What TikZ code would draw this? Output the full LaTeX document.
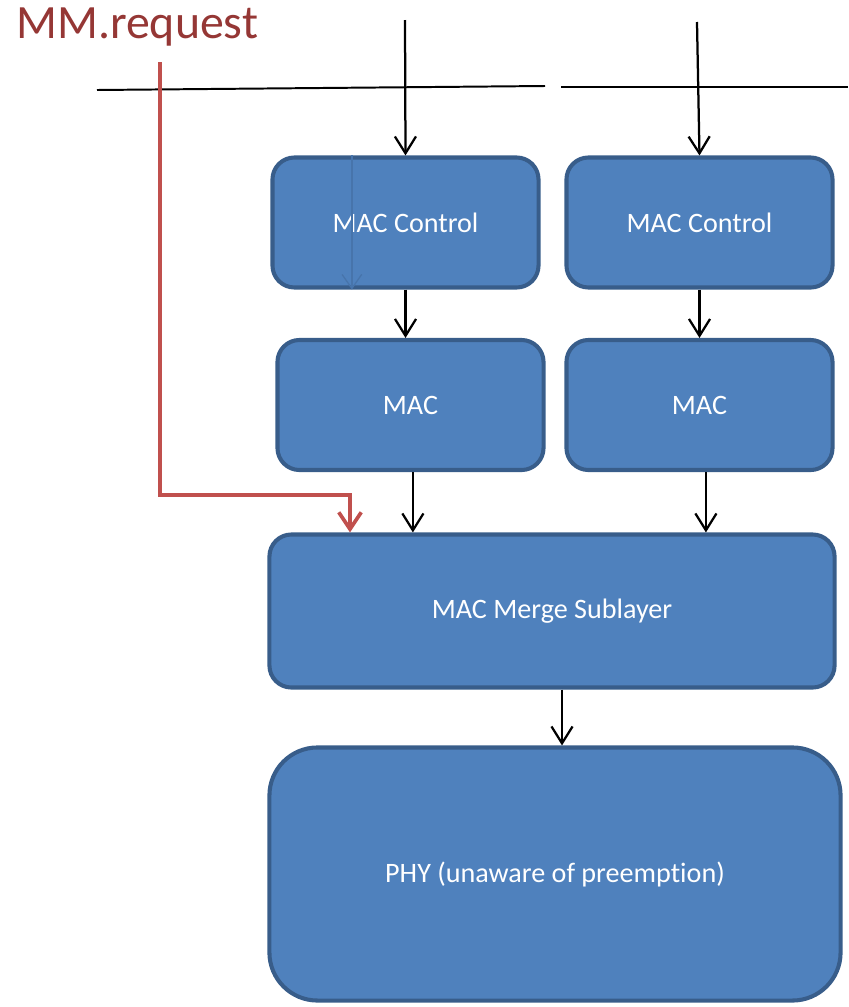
\documentclass[tikz,border=0pt]{standalone}
\usepackage{fontspec}
\setmainfont{Carlito}[Ligatures=NoCommon]
\usepackage{xcolor}
\usetikzlibrary{arrows.meta,positioning}
\definecolor{layerblue}{HTML}{4F81BD}
\definecolor{layeredge}{HTML}{385D8A}
\definecolor{mmred}{HTML}{C0504D}
\definecolor{mmtext}{HTML}{953735}

\begin{document}
\begin{tikzpicture}[x=0.025cm, y=-0.025cm,
    layer/.style={rectangle, rounded corners=0.55cm, draw=layeredge, fill=layerblue, text=white,
                  minimum width=6.65cm, minimum height=3.25cm, font=\fontsize{20}{24}\selectfont, line width=2.9pt},
    flow/.style={-{Straight Barb[length=12pt,width=15pt]}, line width=1.6pt, color=black},
    mmflow/.style={-{Straight Barb[length=12pt,width=16pt]}, line width=2.6pt, color=mmred},
    ghost/.style={-{Straight Barb[length=10pt,width=14pt]}, line width=0.9pt, color=layeredge!35!layerblue},
    rule/.style={line width=1.4pt, color=black}
]
    \useasboundingbox (0,0) rectangle (849,1007);

    % Service interface lines
    \coordinate (ruleA) at (97,90);
    \coordinate (ruleB) at (545,86);
    \coordinate (ruleC) at (561,87);
    \coordinate (ruleD) at (848,87);
    \draw[rule] (ruleA) -- (ruleB);
    \draw[rule] (ruleC) -- (ruleD);

    % Layers
    \node[layer] (ctl1) at (405.5,222.5) {MAC Control};
    \node[layer] (ctl2) at (699.5,222.5) {MAC Control};
    \node[layer] (mac1) at (410.5,405) {MAC};
    \node[layer] (mac2) at (699.5,405) {MAC};
    \node[layer, minimum width=14.125cm, minimum height=3.825cm] (merge) at (552,611) {MAC Merge Sublayer};
    \node[layer, rounded corners=1.2cm, minimum width=14.275cm, minimum height=6.325cm] (phy) at (555,874) {PHY (unaware of preemption)};

    % Management request
    \node[anchor=base west, inner sep=0pt, text=mmtext, font=\fontsize{34}{40}\selectfont] (mmreq) at (16,38) {MM.request};
    \coordinate (mmstart) at (160,62);
    \coordinate (mmbend) at (350,495);
    \draw[mmflow] (mmstart) |- (mmbend) -- (mmbend |- merge.north);

    % Data flow
    \coordinate (in1) at (405,20);
    \coordinate (in2) at (697,22);
    \draw[flow] (in1) -- (ctl1.north);
    \draw[flow] (in2) -- (ctl2.north);
    \draw[ghost] ([xshift=-1.34cm]ctl1.north) -- ([xshift=-1.34cm]ctl1.south);
    \draw[flow] (ctl1.south) -- (ctl1.south |- mac1.north);
    \draw[flow] (ctl2.south) -- (ctl2.south |- mac2.north);
    \draw[flow] ([xshift=0.06cm]mac1.south) -- ([xshift=0.06cm]mac1.south |- merge.north);
    \draw[flow] ([xshift=0.16cm]mac2.south) -- ([xshift=0.16cm]mac2.south |- merge.north);
    \draw[flow] ([xshift=0.25cm]merge.south) -- ([xshift=0.25cm]merge.south |- phy.north);
\end{tikzpicture}
\end{document}
